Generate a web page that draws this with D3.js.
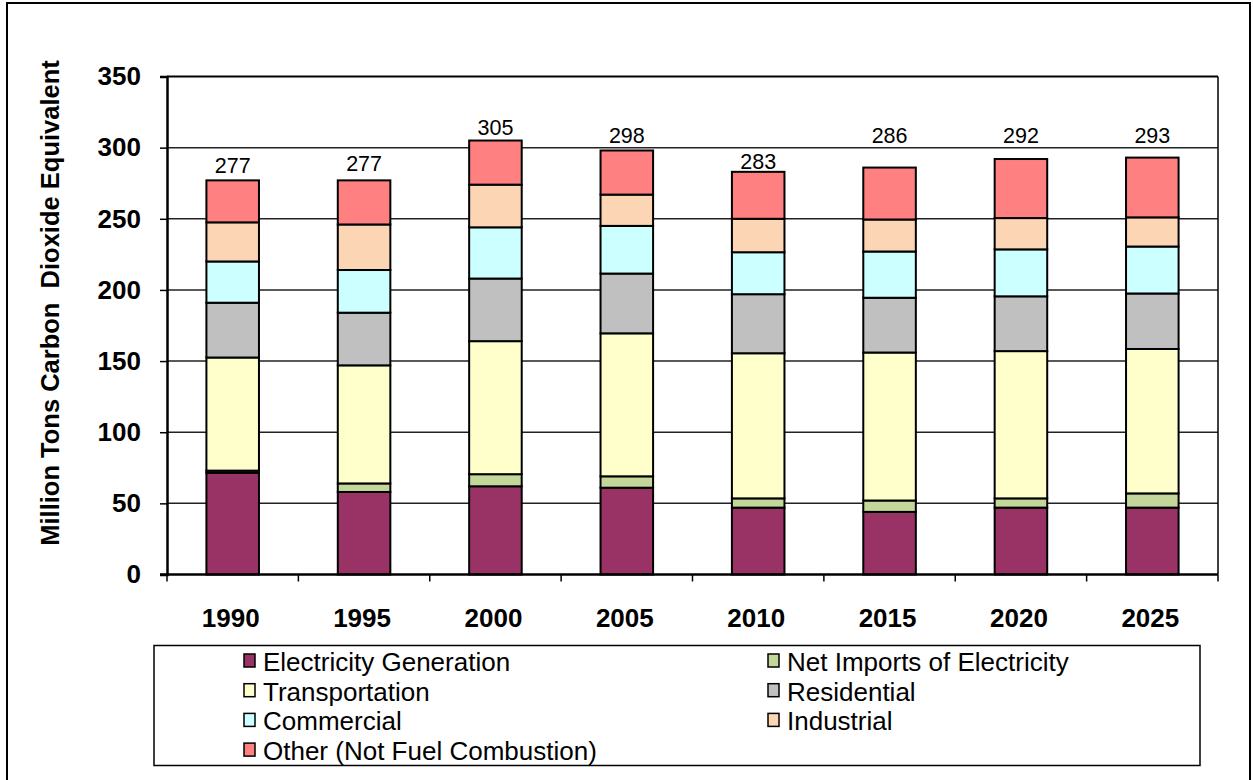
<!DOCTYPE html>
<html>
<head>
<meta charset="utf-8">
<script src="https://cdn.jsdelivr.net/npm/d3@7"></script>
<style>
  body { margin: 0; background: #fff; }
  text { font-family: Arial, "Liberation Sans", sans-serif; }
</style>
</head>
<body>
<div id="chart"></div>
<script>
// values, million tons CO2 equivalent
var years = ["1990", "1995", "2000", "2005", "2010", "2015", "2020", "2025"];
var series = ["Electricity Generation", "Net Imports of Electricity", "Transportation",
              "Residential", "Commercial", "Industrial", "Other (Not Fuel Combustion)"];
var electricity = [71.5, 58, 62, 61, 47, 44, 47, 47];
var netImports  = [1.5, 6, 8.5, 8, 6.5, 8, 6.5, 10];
var transport   = [79.5, 83, 93.5, 100.5, 102, 104, 103.5, 101.5];
var residential = [38.5, 37, 44, 42, 41.5, 38.5, 38.5, 39];
var commercial  = [29, 30, 36, 33.5, 29.5, 32.5, 33, 33];
var industrial  = [27.5, 32, 30, 22, 23.5, 22.5, 22, 20.5];
var other       = [29.5, 31, 31, 31, 33, 36.5, 41.5, 42];
var totals      = [277, 277, 305, 298, 283, 286, 292, 293];
// the total labels do not all sit right on the bar top (value where the label baseline sits)
var labelAt     = [282, 283.5, 309, 303.3, 285, 303.3, 303.3, 303.3];
var yTicks      = [0, 50, 100, 150, 200, 250, 300, 350];
var colors      = ["#993366", "#C4D79B", "#FFFFCC", "#C0C0C0", "#CCFFFF", "#FCD5B4", "#FF8080"];

var width = 1253, height = 780;
var margin = {top: 76.5, left: 167, right: 1253 - 1218, bottom: 780 - 574.5};

var svg = d3.select("#chart").append("svg")
    .attr("width", width)
    .attr("height", height);

// outer frame
svg.append("rect")
    .attr("x", 7).attr("y", 3)
    .attr("width", 1243).attr("height", 790)
    .attr("fill", "none").attr("stroke", "#000").attr("stroke-width", 2);

var table = years.map(function(y, i) {
    return {year: y, e: electricity[i], n: netImports[i], t: transport[i], r: residential[i],
            c: commercial[i], ind: industrial[i], o: other[i]};
});
var keys = ["e", "n", "t", "r", "c", "ind", "o"];
var stacked = d3.stack().keys(keys)(table);

var x = d3.scaleBand()
    .domain(years)
    .range([margin.left, width - margin.right])
    .paddingInner(0.6)
    .paddingOuter(0.3);

var xb = d3.scaleBand().domain(years).range([margin.left, width - margin.right]);

var y = d3.scaleLinear()
    .domain([0, 350])
    .range([height - margin.bottom, margin.top]);

// grid
svg.append("g").attr("class", "grid")
    .selectAll("line")
    .data(yTicks.slice(1))
    .join("line")
    .attr("x1", margin.left).attr("x2", width - margin.right)
    .attr("y1", function(d) { return y(d); })
    .attr("y2", function(d) { return y(d); })
    .attr("stroke", function(d) { return d == 350 ? "#000" : "#222"; })
    .attr("stroke-width", function(d) { return d == 350 ? 2 : 1.5; });

// right edge of plot
svg.append("line")
    .attr("x1", width - margin.right).attr("x2", width - margin.right)
    .attr("y1", margin.top).attr("y2", height - margin.bottom)
    .attr("stroke", "#000").attr("stroke-width", 1.5);

// bars
svg.append("g").selectAll("g")
    .data(stacked)
    .join("g")
    .attr("fill", function(d, i) { return colors[i]; })
    .selectAll("rect")
    .data(function(d) { return d; })
    .join("rect")
    .attr("x", function(d) { return x(d.data.year); })
    .attr("width", x.bandwidth())
    .attr("y", function(d) { return y(d[1]); })
    .attr("height", function(d) { return y(d[0]) - y(d[1]); })
    .attr("stroke", "#000")
    .attr("stroke-width", 2);

// total labels
svg.append("g").selectAll("text")
    .data(totals)
    .join("text")
    .attr("x", function(d, i) { return x(years[i]) + x.bandwidth() / 2; })
    .attr("y", function(d, i) { return y(labelAt[i]); })
    .attr("text-anchor", "middle")
    .style("font-size", "21.5px")
    .text(function(d) { return d; });

// y axis
var yAxis = svg.append("g")
    .attr("transform", "translate(" + margin.left + ",0)")
    .call(d3.axisLeft(y).tickValues(yTicks).tickSize(7).tickPadding(19));
yAxis.select(".domain").attr("stroke-width", 2.5);
yAxis.selectAll(".tick line").attr("stroke-width", 1.5);
yAxis.selectAll(".tick text")
    .style("font-size", "26px").style("font-weight", "bold")
    .attr("font-family", null);

// x axis, ticks between categories
var xAxisY = height - margin.bottom;
svg.append("line")
    .attr("x1", margin.left - 7).attr("x2", width - margin.right)
    .attr("y1", xAxisY).attr("y2", xAxisY)
    .attr("stroke", "#000").attr("stroke-width", 2.5);
svg.append("g").selectAll("line")
    .data(years.concat(["end"]))
    .join("line")
    .attr("x1", function(d, i) { return margin.left + i * xb.step(); })
    .attr("x2", function(d, i) { return margin.left + i * xb.step(); })
    .attr("y1", xAxisY).attr("y2", xAxisY + 7)
    .attr("stroke", "#000").attr("stroke-width", 1.5);
svg.append("g").selectAll("text")
    .data(years)
    .join("text")
    .attr("x", function(d) { return xb(d) + xb.bandwidth() / 2 - 2; })
    .attr("y", xAxisY + 52)
    .attr("text-anchor", "middle")
    .style("font-size", "26px").style("font-weight", "bold")
    .text(function(d) { return d; });

// y title
svg.append("text")
    .attr("transform", "translate(59,303) rotate(-90)")
    .attr("text-anchor", "middle")
    .style("font-size", "25.5px").style("font-weight", "bold")
    .style("white-space", "pre")
    .text("Million Tons Carbon  Dioxide Equivalent");

// legend
var legend = svg.append("g");
legend.append("rect")
    .attr("x", 154).attr("y", 645.5)
    .attr("width", 1046).attr("height", 120)
    .attr("fill", "#fff").attr("stroke", "#000").attr("stroke-width", 1.5);

var legItems = legend.selectAll("g.item")
    .data(series)
    .join("g")
    .attr("class", "item")
    .attr("transform", function(d, i) {
        return "translate(" + (i % 2 == 0 ? 244 : 768) + "," + (654 + Math.floor(i / 2) * 29.7) + ")";
    });
legItems.append("rect")
    .attr("width", 11).attr("height", 13)
    .attr("fill", function(d, i) { return colors[i]; })
    .attr("stroke", "#000").attr("stroke-width", 1.5);
legItems.append("text")
    .attr("x", 19).attr("y", 17)
    .style("font-size", "26px")
    .text(function(d) { return d; });
</script>
</body>
</html>
